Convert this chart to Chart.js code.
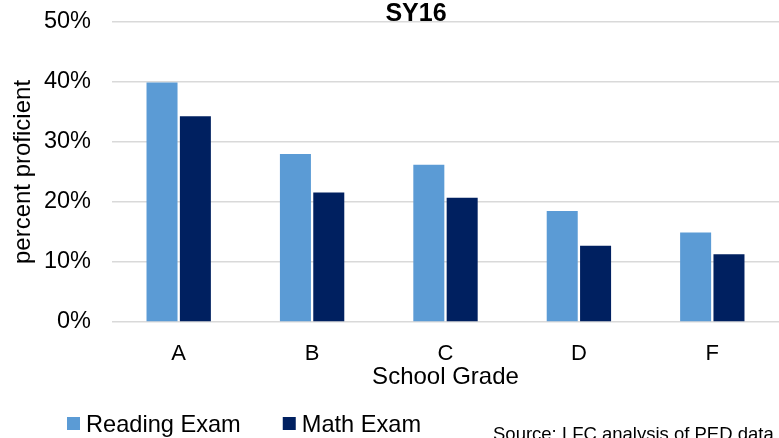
<!DOCTYPE html>
<html>
<head>
<meta charset="utf-8">
<script src="https://cdn.jsdelivr.net/npm/chart.js@4.4.0/dist/chart.umd.min.js"></script>
<style>
  html, body { margin: 0; padding: 0; background: #fff; }
  #wrap { width: 779px; height: 438px; }
</style>
</head>
<body>
<div id="wrap"><canvas id="gradeChart" width="779" height="438"></canvas></div>
<script>
const grades = ["A", "B", "C", "D", "F"];
const readingValues = [39.9, 28.0, 26.2, 18.5, 14.9];
const mathValues = [34.3, 21.6, 20.7, 12.7, 11.3];
const yTicks = [0, 10, 20, 30, 40, 50];

const FONT = "'Liberation Sans', Arial, sans-serif";

// title, legend and source note drawn on the canvas by hand
const extrasPlugin = {
    id: "extras",
    afterDraw(chart) {
        const ctx = chart.ctx;
        ctx.save();
        ctx.fillStyle = "#000";
        ctx.textAlign = "center";
        ctx.textBaseline = "alphabetic";
        ctx.font = "bold 25px " + FONT;
        ctx.fillText("SY16", 416, 21);

        // legend
        ctx.textAlign = "left";
        ctx.font = "23.6px " + FONT;
        let x = 67;
        chart.data.datasets.forEach(ds => {
            ctx.fillStyle = ds.backgroundColor;
            ctx.fillRect(x, 417, 13, 13);
            ctx.fillStyle = "#000";
            ctx.fillText(ds.label, x + 19, 431.5);
            x += 19 + ctx.measureText(ds.label).width + 42;
        });

        ctx.font = "18.5px " + FONT;
        ctx.fillText("Source: LFC analysis of PED data", 493, 440);
        ctx.restore();
    }
};

new Chart(document.getElementById("gradeChart"), {
    type: "bar",
    data: {
        labels: grades,
        datasets: [
            { label: "Reading Exam", data: readingValues, backgroundColor: "#5B9BD5" },
            { label: "Math Exam", data: mathValues, backgroundColor: "#002060" }
        ]
    },
    options: {
        responsive: false,
        animation: false,
        layout: { padding: { top: 22, right: 0, bottom: 46, left: 0 } },
        categoryPercentage: 0.5,
        barPercentage: 0.93,
        plugins: {
            legend: { display: false },
            tooltip: { enabled: false }
        },
        scales: {
            x: {
                grid: { display: false },
                border: { display: false },
                ticks: { color: "#000", font: { family: FONT, size: 22 }, padding: 11 },
                title: {
                    display: true,
                    text: "School Grade",
                    color: "#000",
                    font: { family: FONT, size: 24 },
                    padding: { top: 0, bottom: 0 }
                },
                afterFit(scale) { scale.height = 70; }
            },
            y: {
                min: 0,
                max: 50,
                afterBuildTicks(scale) { scale.ticks = yTicks.map(v => ({ value: v })); },
                grid: { color: "#d9d9d9", lineWidth: 1.5, drawTicks: false },
                border: { display: false },
                ticks: {
                    color: "#000",
                    font: { family: FONT, size: 23.5 },
                    padding: 21,
                    callback: v => v + "%"
                },
                title: {
                    display: true,
                    text: "percent proficient",
                    color: "#000",
                    font: { family: FONT, size: 24 },
                    padding: { top: 9, bottom: 0 }
                },
                afterFit(scale) {
                    scale.width = 112;
                    // let the plot area start right at the layout padding
                    scale.paddingTop = 0;
                    scale.paddingBottom = 0;
                }
            }
        }
    },
    plugins: [extrasPlugin]
});
</script>
</body>
</html>
